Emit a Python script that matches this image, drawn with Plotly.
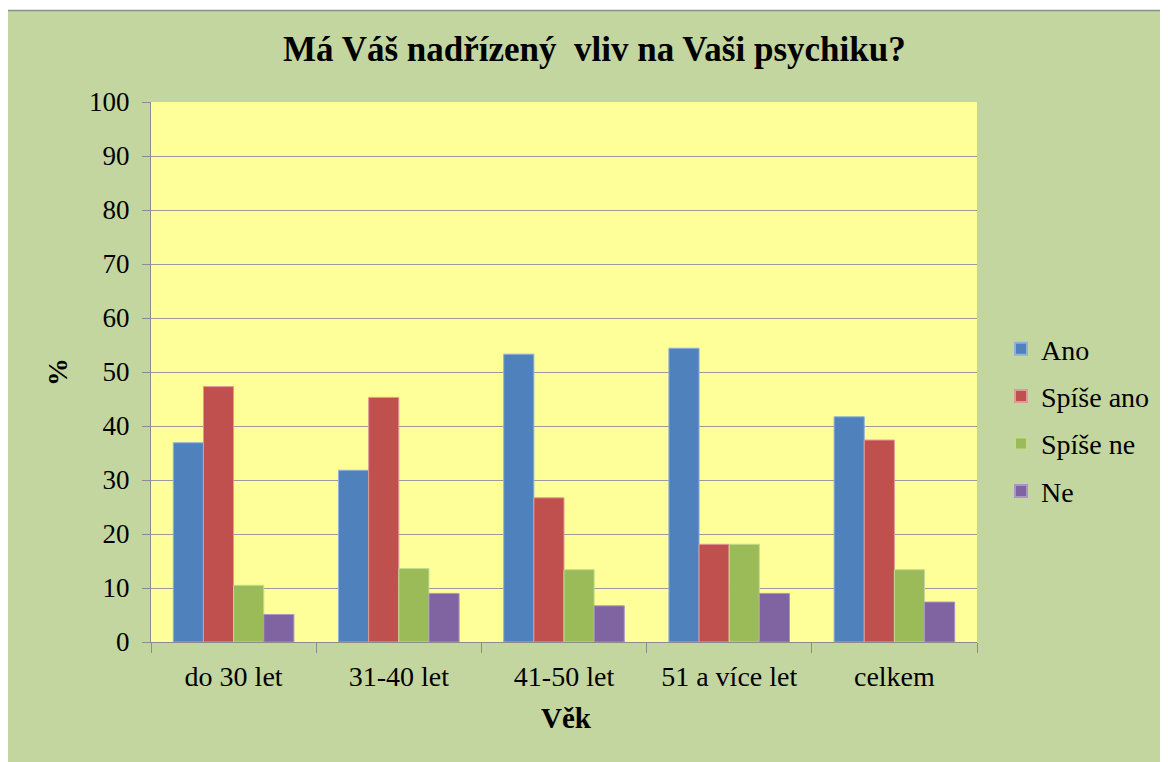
import plotly.graph_objects as go

categories = ["do 30 let", "31-40 let", "41-50 let", "51 a více let", "celkem"]
series_names = ["Ano", "Spíše ano", "Spíše ne", "Ne"]
ano = [36.9, 31.8, 53.3, 54.4, 41.7]
spise_ano = [47.3, 45.3, 26.7, 18.1, 37.4]
spise_ne = [10.5, 13.6, 13.4, 18.1, 13.4]
ne = [5.1, 9.0, 6.7, 9.0, 7.4]
y_ticks = [0, 10, 20, 30, 40, 50, 60, 70, 80, 90, 100]

values = [ano, spise_ano, spise_ne, ne]
colors = ["#4F81BD", "#C0504D", "#9BBB59", "#8064A2"]
edge = ["#8FB0DA", "#E09A98", "#C4DA94", "#A996C6"]

OFF = 8  # default page body margin
W, H = 1168 - OFF, 762 - OFF
L, R, T, B = 151 - OFF, 977 - OFF, 102 - OFF, 642 - OFF
font = "Liberation Serif"

fig = go.Figure()
for name, vals, c, e in zip(series_names, values, colors, edge):
    fig.add_trace(go.Bar(
        x=categories, y=vals, name=name, legendgroup=name,
        marker=dict(color=c, line=dict(color=e, width=1)),
    ))

def px_x(p):
    return (p - OFF - L) / (R - L)

def px_y(p):
    return (B - (p - OFF)) / (B - T)

fig.update_layout(
    width=W, height=H,
    margin=dict(l=L, r=W - R, t=T, b=H - B),
    paper_bgcolor="#C4D69F",
    plot_bgcolor="#FFFF99",
    barmode="group",
    bargap=0.27,
    bargroupgap=0,
    font=dict(family="serif", size=26, color="#000000"),
    showlegend=True,
    legend=dict(
        x=px_x(1001), y=px_y(420), xanchor="left", yanchor="middle",
        font=dict(family="serif", size=28, color="#000000"),
        bgcolor="rgba(0,0,0,0)", tracegroupgap=8,
        itemsizing="constant",
    ),
    xaxis=dict(
        showline=True, linecolor="#8C8C8C", linewidth=1,
        ticks="outside", ticklen=10, tickcolor="#8C8C8C", tickson="boundaries",
        tickfont=dict(family="serif", size=28), ticklabelstandoff=9,
        showgrid=False,
    ),
    yaxis=dict(
        range=[0, 100], tickvals=y_ticks, ticktext=[str(v) for v in y_ticks],
        showline=True, linecolor="#8C8C8C", linewidth=1,
        ticks="outside", ticklen=8, tickcolor="#8C8C8C",
        showgrid=True, gridcolor="#9A9A9A", gridwidth=1,
        tickfont=dict(family="serif", size=27), ticklabelstandoff=7,
        zeroline=False,
    ),
    annotations=[
        dict(text="<b>Má Váš nadřízený  vliv na Vaši psychiku?</b>", xref="paper", yref="paper",
             x=px_x(594), y=px_y(50), xanchor="center", yanchor="middle", showarrow=False,
             font=dict(family=font, size=35, color="#000000")),
        dict(text="<b>Věk</b>", xref="paper", yref="paper",
             x=px_x(566), y=px_y(718), xanchor="center", yanchor="middle", showarrow=False,
             font=dict(family="serif", size=29, color="#000000")),
        dict(text="<b>%</b>", xref="paper", yref="paper", textangle=-90,
             x=px_x(57), y=px_y(372), xanchor="center", yanchor="middle", showarrow=False,
             font=dict(family="serif", size=28, color="#000000")),
    ],
    shapes=[
        dict(type="rect", xref="paper", yref="paper", layer="below",
             x0=px_x(-20), x1=px_x(1200), y0=px_y(-20), y1=px_y(10),
             fillcolor="#FFFFFF", line=dict(width=0)),
        dict(type="rect", xref="paper", yref="paper", layer="below",
             x0=px_x(4.5), x1=px_x(1200), y0=px_y(10.5), y1=px_y(800),
             fillcolor="rgba(0,0,0,0)", line=dict(color="#8C8C8C", width=1.5)),
    ],
)

fig.write_html("out.html", config={"displayModeBar": False})
